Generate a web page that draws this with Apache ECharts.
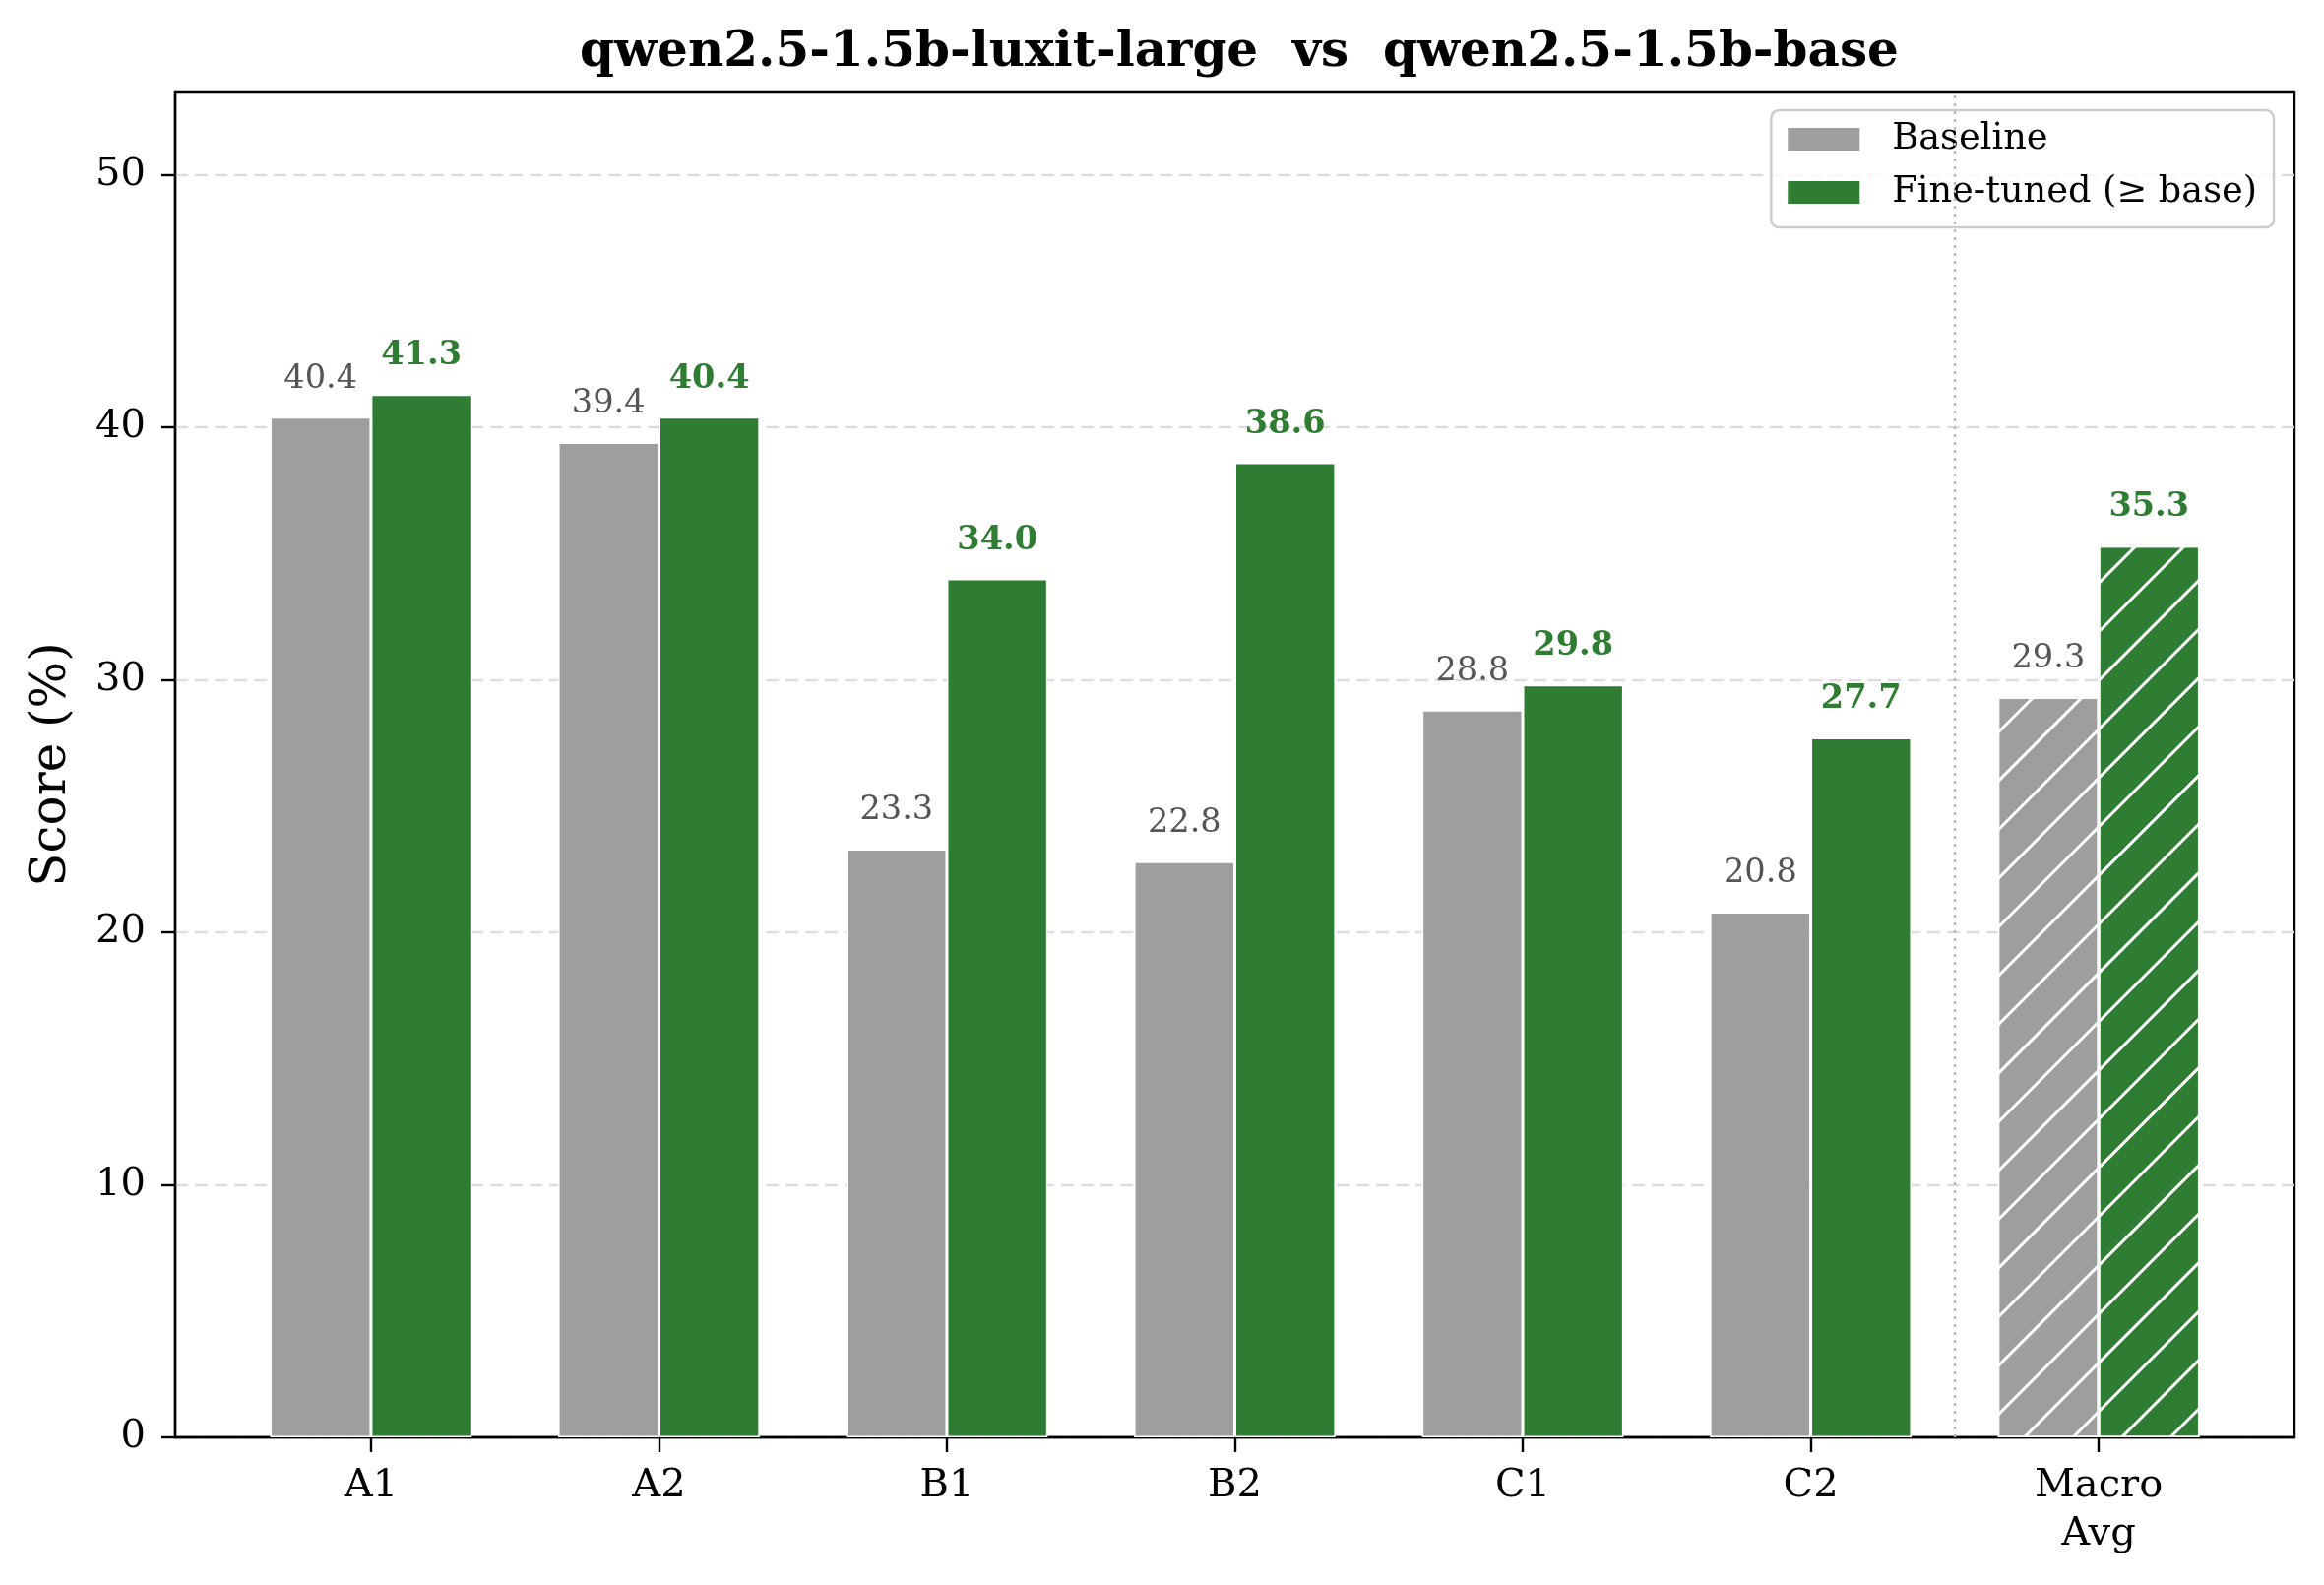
<!DOCTYPE html>
<html>
<head>
<meta charset="utf-8">
<script src="https://cdn.jsdelivr.net/npm/echarts@6/dist/echarts.min.js"></script>
<style>
  html, body { margin: 0; padding: 0; background: #fff; }
  #chart { width: 2361px; height: 1610px; }
</style>
</head>
<body>
<div id="chart"></div>
<script>
const categories = ['A1', 'A2', 'B1', 'B2', 'C1', 'C2', 'Macro\nAvg'];
const baseline = [40.4, 39.4, 23.3, 22.8, 28.8, 20.8, 29.3];
const finetuned = [41.3, 40.4, 34.0, 38.6, 29.8, 27.7, 35.3];
const yTicks = [0, 10, 20, 30, 40, 50];
const xTicks = categories.map((c, i) => i);

const FONT = 'DejaVu Serif';
const GRAY = '#9e9e9e';
const GREEN = '#2e7d32';

// hatch for the macro average bars
const hatch = {
    symbol: 'rect',
    symbolSize: 1,
    color: '#ffffff',
    dashArrayX: [1, 0],
    dashArrayY: [3, 32],
    rotation: -Math.PI / 4
};

const toData = (values) => values.map((v, i) => {
    const item = { value: [xTicks[i], v] };
    if (categories[i].startsWith('Macro')) {
        item.itemStyle = { decal: hatch };
    }
    return item;
});

const chart = echarts.init(document.getElementById('chart'));

const option = {
    animation: false,
    title: {
        text: 'qwen2.5-1.5b-luxit-large  vs  qwen2.5-1.5b-base',
        left: 1254,
        top: 24,
        textAlign: 'center',
        textStyle: { fontFamily: FONT, fontSize: 50, fontWeight: 'bold', color: '#000' }
    },
    legend: {
        orient: 'vertical',
        right: 51,
        top: 112,
        align: 'left',
        padding: [11, 17, 17, 17],
        itemGap: 17,
        itemWidth: 73,
        itemHeight: 23,
        icon: 'rect',
        borderColor: '#cccccc',
        borderWidth: 2.5,
        borderRadius: 8,
        backgroundColor: 'rgba(255,255,255,0.8)',
        textStyle: { fontFamily: FONT, fontSize: 36.7, color: '#000', padding: [0, 0, 0, 28] },
        itemStyle: { borderWidth: 0 },
        data: ['Baseline', 'Fine-tuned (\u2265 base)']
    },
    grid: {
        left: 178,
        right: 30,
        top: 93,
        bottom: 150,
        show: true,
        borderColor: '#000',
        borderWidth: 2.4,
        containLabel: false
    },
    xAxis: {
        type: 'value',
        min: -0.68,
        max: 6.68,
        splitLine: { show: false },
        axisLine: { show: true, onZero: false, lineStyle: { color: '#000', width: 2.4 } },
        axisTick: { show: true, customValues: xTicks, length: 15, lineStyle: { color: '#000', width: 2.4 } },
        axisLabel: {
            customValues: xTicks,
            formatter: (v) => categories[Math.round(v)],
            fontFamily: FONT,
            fontSize: 40,
            lineHeight: 49,
            color: '#000',
            margin: 25
        }
    },
    yAxis: {
        type: 'value',
        min: 0,
        max: 53.3,
        interval: 10,
        name: 'Score (%)',
        nameLocation: 'middle',
        nameGap: 100,
        nameTextStyle: { fontFamily: FONT, fontSize: 50, color: '#000' },
        axisLine: { show: true, onZero: false, lineStyle: { color: '#000', width: 2.4 } },
        axisTick: { show: true, customValues: yTicks, length: 14, lineStyle: { color: '#000', width: 2.4 } },
        axisLabel: {
            customValues: yTicks,
            fontFamily: FONT,
            fontSize: 40,
            color: '#000',
            margin: 30
        },
        splitLine: { show: true, lineStyle: { color: '#dddddd', width: 2.4, type: [13, 7] } }
    },
    series: [
        {
            name: 'Baseline',
            type: 'bar',
            barWidth: '35%',
            barGap: '0%',
            data: toData(baseline),
            itemStyle: { color: GRAY, borderColor: '#ffffff', borderWidth: 1.5 },
            label: {
                show: true,
                position: 'top',
                distance: 22,
                formatter: (p) => p.value[1].toFixed(1),
                fontFamily: FONT,
                fontSize: 33.6,
                color: '#555555'
            }
        },
        {
            name: 'Fine-tuned (\u2265 base)',
            type: 'bar',
            barWidth: '35%',
            barGap: '0%',
            data: toData(finetuned),
            itemStyle: { color: GREEN, borderColor: '#ffffff', borderWidth: 1.5 },
            label: {
                show: true,
                position: 'top',
                distance: 22,
                formatter: (p) => p.value[1].toFixed(1),
                fontFamily: FONT,
                fontSize: 33.6,
                fontWeight: 'bold',
                color: GREEN
            }
        },
        {
            // separator between the levels and the macro average
            type: 'line',
            data: [],
            markLine: {
                silent: true,
                symbol: 'none',
                label: { show: false },
                lineStyle: { type: [3, 5], color: '#b8b8b8', width: 2.4 },
                data: [{ xAxis: 5.5 }]
            }
        }
    ]
};

chart.setOption(option);
</script>
</body>
</html>
